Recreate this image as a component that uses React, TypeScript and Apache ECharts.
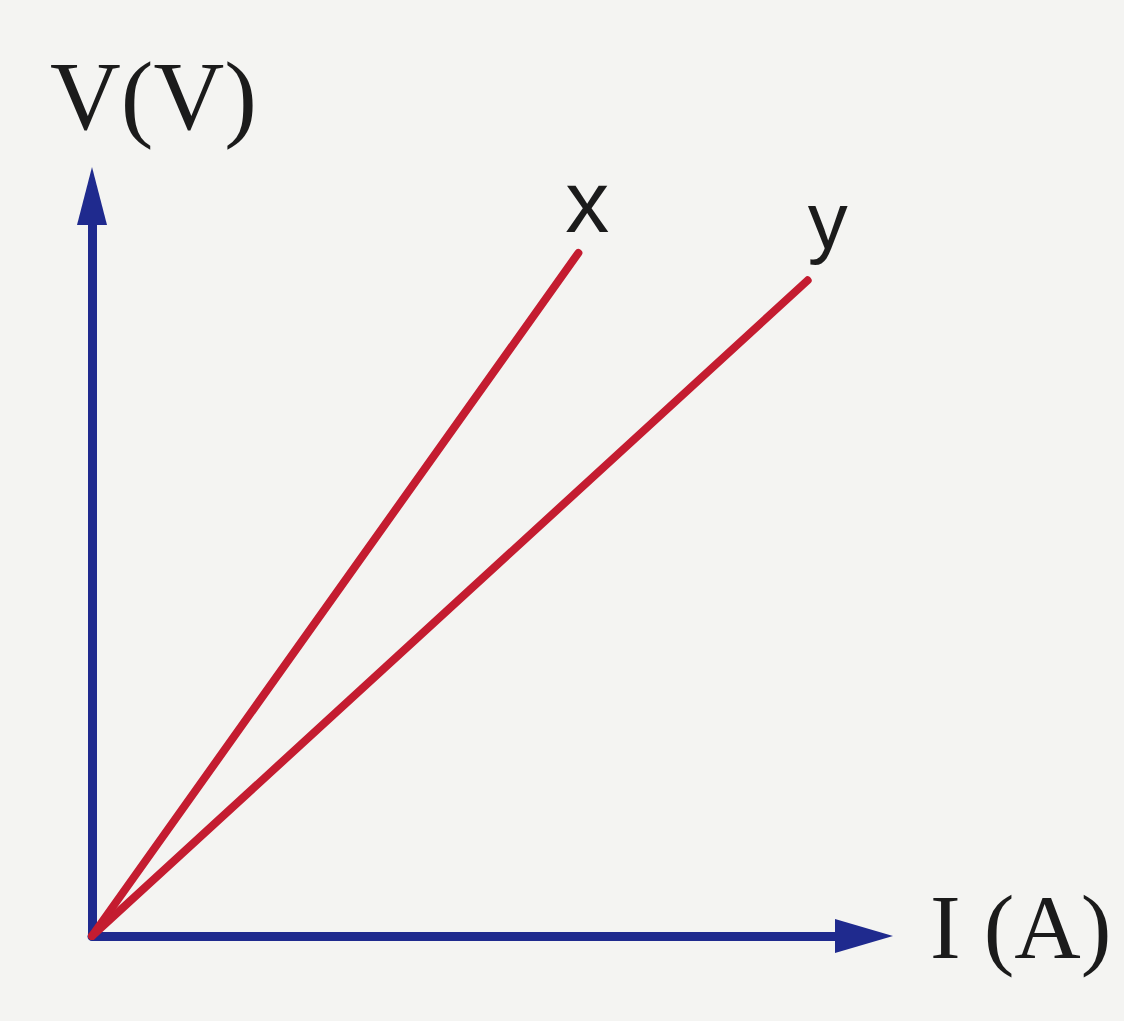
import React, { useEffect, useRef } from "react";
import * as echarts from "echarts";

// Data (axis units 0..100, no ticks shown)
const seriesNames = ["x", "y"];
const lineX = [
  [0, 0],
  [63.0, 92.3],
];
const lineY = [
  [0, 0],
  [92.7, 88.6],
];
const xAxisTitle = "I (A)";
const yAxisTitle = "V(V)";

const AXIS_BLUE = "#1f2a8e";
const LINE_RED = "#c41c30";
const TEXT = "#1b1b1b";

export default function App() {
  const ref = useRef<HTMLDivElement>(null);
  useEffect(() => {
    if (!ref.current) return;
    const chart = echarts.init(ref.current, undefined, { renderer: "svg" });
    chart.setOption({
      animation: false,
      backgroundColor: "#f4f4f2",
      grid: { left: 92, top: 196, right: 260, bottom: 85, containLabel: false },
      xAxis: {
        type: "value",
        min: 0,
        max: 100,
        name: xAxisTitle,
        nameLocation: "end",
        nameGap: 66,
        nameTextStyle: {
          fontFamily: "Liberation Serif",
          fontSize: 92,
          color: TEXT,
          align: "left",
          verticalAlign: "bottom",
          lineHeight: 18,
        },
        axisLine: {
          show: true,
          symbol: ["none", "triangle"],
          symbolSize: [34, 58],
          lineStyle: { color: AXIS_BLUE, width: 9 },
        },
        axisTick: { show: false },
        axisLabel: { show: false },
        splitLine: { show: false },
      },
      yAxis: {
        type: "value",
        min: 0,
        max: 100,
        axisLine: {
          show: true,
          symbol: ["none", "triangle"],
          symbolSize: [30, 58],
          lineStyle: { color: AXIS_BLUE, width: 9 },
        },
        axisTick: { show: false },
        axisLabel: { show: false },
        splitLine: { show: false },
      },
      graphic: [
        {
          type: "text",
          left: 50,
          top: 47,
          style: {
            text: yAxisTitle,
            fontFamily: "Liberation Serif",
            fontSize: 98,
            fill: TEXT,
          },
        },
      ],
      series: [
        {
          name: seriesNames[0],
          type: "line",
          data: lineX,
          showSymbol: false,
          symbol: "none",
          lineStyle: { color: LINE_RED, width: 8, cap: "round" },
          endLabel: {
            show: true,
            formatter: seriesNames[0],
            fontFamily: "Liberation Sans",
            fontSize: 88,
            color: TEXT,
            offset: [-21, -51],
          },
        },
        {
          name: seriesNames[1],
          type: "line",
          data: lineY,
          showSymbol: false,
          symbol: "none",
          lineStyle: { color: LINE_RED, width: 8, cap: "round" },
          endLabel: {
            show: true,
            formatter: seriesNames[1],
            fontFamily: "Liberation Sans",
            fontSize: 80,
            color: TEXT,
            offset: [-8, -60],
          },
        },
      ],
    });
    return () => chart.dispose();
  }, []);
  return (
    <div
      ref={ref}
      style={{ position: "absolute", left: 0, top: 0, width: 1124, height: 1021 }}
    />
  );
}
